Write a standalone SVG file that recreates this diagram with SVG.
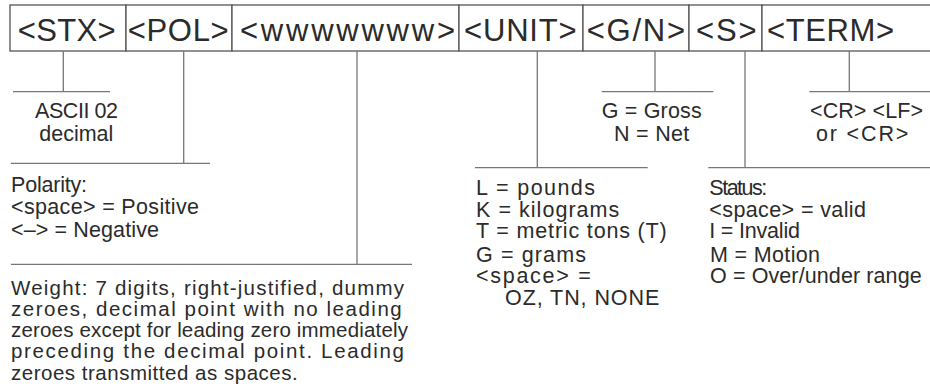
<svg xmlns="http://www.w3.org/2000/svg" width="930" height="388" viewBox="0 0 930 388">
<style>
.cell{fill:#fff;stroke:#555;stroke-width:1.3}
.fld{font-family:"Liberation Sans",Arial,sans-serif;font-size:31px;fill:#2b2b2b}
.t{font-family:"Liberation Sans",Arial,sans-serif;font-size:21.5px;fill:#2b2b2b}
.p{font-size:20.5px}
.ln{stroke:#777;stroke-width:1.3;fill:none}
</style>
<rect width="930" height="388" fill="#fff"/>
<g id="fields">
<g id="stx"><rect class="cell" x="10" y="5" width="116" height="46"/><text class="fld" x="17.7" y="41" textLength="98" lengthAdjust="spacing">&lt;STX&gt;</text></g>
<g id="pol"><rect class="cell" x="126" y="5" width="106" height="46"/><text class="fld" x="127.7" y="41" textLength="101" lengthAdjust="spacing">&lt;POL&gt;</text></g>
<g id="weight"><rect class="cell" x="232" y="5" width="227" height="46"/><text class="fld" x="240" y="41" textLength="215" lengthAdjust="spacing">&lt;wwwwwww&gt;</text></g>
<g id="unit"><rect class="cell" x="459" y="5" width="124" height="46"/><text class="fld" x="464" y="41" textLength="112.7" lengthAdjust="spacing">&lt;UNIT&gt;</text></g>
<g id="gn"><rect class="cell" x="583" y="5" width="106" height="46"/><text class="fld" x="586.7" y="41" textLength="98.3" lengthAdjust="spacing">&lt;G/N&gt;</text></g>
<g id="s"><rect class="cell" x="689" y="5" width="73" height="46"/><text class="fld" x="696" y="41" textLength="60.7" lengthAdjust="spacing">&lt;S&gt;</text></g>
<g id="term"><rect class="cell" x="762" y="5" width="172" height="46"/><text class="fld" x="767" y="41" textLength="127" lengthAdjust="spacing">&lt;TERM&gt;</text></g>
</g>
<g id="connectors">
<line class="ln" x1="63.3" y1="51" x2="63.3" y2="91.7"/>
<line class="ln" x1="13" y1="91.7" x2="110" y2="91.7"/>
<line class="ln" x1="183.7" y1="51" x2="183.7" y2="163.3"/>
<line class="ln" x1="11" y1="163.3" x2="210" y2="163.3"/>
<line class="ln" x1="357" y1="51" x2="357" y2="264.3"/>
<line class="ln" x1="11" y1="264.3" x2="412" y2="264.3"/>
<line class="ln" x1="537.3" y1="51" x2="537.3" y2="167.7"/>
<line class="ln" x1="475" y1="167.7" x2="647.7" y2="167.7"/>
<line class="ln" x1="655" y1="51" x2="655" y2="91.7"/>
<line class="ln" x1="601.7" y1="91.7" x2="713.3" y2="91.7"/>
<line class="ln" x1="745" y1="51" x2="745" y2="167.7"/>
<line class="ln" x1="708.3" y1="167.7" x2="930" y2="167.7"/>
<line class="ln" x1="849.3" y1="51" x2="849.3" y2="91.7"/>
<line class="ln" x1="809.3" y1="91.7" x2="930" y2="91.7"/>
</g>
<g id="stx-note">
<text class="t" x="35" y="118.3" textLength="83" lengthAdjust="spacing">ASCII 02</text>
<text class="t" x="39.3" y="140.7" textLength="74" lengthAdjust="spacing">decimal</text>
</g>
<g id="pol-note">
<text class="t" x="11" y="191.7" textLength="76" lengthAdjust="spacing">Polarity:</text>
<text class="t" x="11" y="214" textLength="188" lengthAdjust="spacing">&lt;space&gt; = Positive</text>
<text class="t" x="11" y="236.7" textLength="148" lengthAdjust="spacing">&lt;–&gt; = Negative</text>
</g>
<g id="weight-note">
<text class="t p" x="11" y="295" textLength="393" lengthAdjust="spacing">Weight: 7 digits, right-justified, dummy</text>
<text class="t p" x="11" y="316.2" textLength="390.7" lengthAdjust="spacing">zeroes, decimal point with no leading</text>
<text class="t p" x="11" y="337.3" textLength="397" lengthAdjust="spacing">zeroes except for leading zero immediately</text>
<text class="t p" x="11" y="358.4" textLength="393" lengthAdjust="spacing">preceding the decimal point. Leading</text>
<text class="t p" x="11" y="379.5" textLength="286.7" lengthAdjust="spacing">zeroes transmitted as spaces.</text>
</g>
<g id="unit-note">
<text class="t" x="476" y="195" textLength="119" lengthAdjust="spacing">L = pounds</text>
<text class="t" x="476" y="216.7" textLength="143.3" lengthAdjust="spacing">K = kilograms</text>
<text class="t" x="476" y="238.3" textLength="190.7" lengthAdjust="spacing">T = metric tons (T)</text>
<text class="t" x="476" y="261.7" textLength="110" lengthAdjust="spacing">G = grams</text>
<text class="t" x="476" y="283.3" textLength="114.7" lengthAdjust="spacing">&lt;space&gt; =</text>
<text class="t" x="505" y="305" textLength="154.3" lengthAdjust="spacing">OZ, TN, NONE</text>
</g>
<g id="gn-note">
<text class="t" x="601.7" y="118.3" textLength="100" lengthAdjust="spacing">G = Gross</text>
<text class="t" x="614" y="140.7" textLength="75.3" lengthAdjust="spacing">N = Net</text>
</g>
<g id="s-note">
<text class="t" x="709.3" y="195" textLength="58" lengthAdjust="spacing">Status:</text>
<text class="t" x="709.3" y="216.7" textLength="156.7" lengthAdjust="spacing">&lt;space&gt; = valid</text>
<text class="t" x="709.3" y="238.3" textLength="90.7" lengthAdjust="spacing">I = Invalid</text>
<text class="t" x="710" y="261.7" textLength="110" lengthAdjust="spacing">M = Motion</text>
<text class="t" x="710" y="283.3" textLength="211.7" lengthAdjust="spacing">O = Over/under range</text>
</g>
<g id="term-note">
<text class="t" x="810" y="118.3" textLength="113" lengthAdjust="spacing">&lt;CR&gt; &lt;LF&gt;</text>
<text class="t" x="816" y="140.7" textLength="92.3" lengthAdjust="spacing">or &lt;CR&gt;</text>
</g>
</svg>
